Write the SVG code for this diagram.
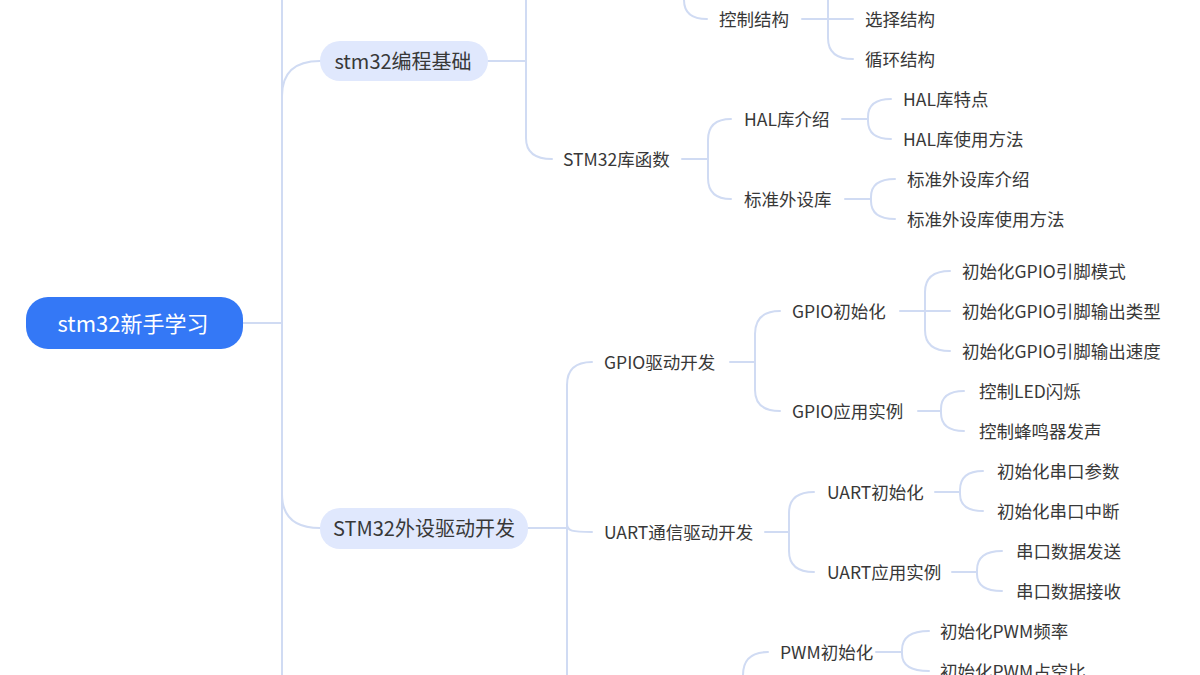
<svg xmlns="http://www.w3.org/2000/svg" width="1200" height="675" viewBox="0 0 1200 675">
<style>
.t{font-family:"Noto Sans CJK SC","Noto Sans",sans-serif;font-size:17.5px;fill:#383838;dominant-baseline:central}
.p{font-size:20px;text-anchor:middle}
.r{font-size:22px;fill:#ffffff;text-anchor:middle}
.c{fill:none;stroke:#d0dbf3;stroke-width:2;stroke-linecap:round}
.pill{fill:#e0e8fd}
</style>
<rect width="1200" height="675" fill="#ffffff"/>
<g id="connectors">
<path class="c" d="M243,323 H282"/>
<path class="c" d="M282,-5 V680"/>
<path class="c" d="M282,96 Q282,61 320,61"/>
<path class="c" d="M282,494 Q282,528 320,528"/>
<path class="c" d="M488,61 H526"/>
<path class="c" d="M526,-5 V138 Q526,159 552,159"/>
<path class="c" d="M684,-5 V0 Q684,19 707,19"/>
<path class="c" d="M802,19 H853"/>
<path class="c" d="M828,-5 V38 Q828,59 853,59"/>
<path class="c" d="M682,159 H708"/>
<path class="c" d="M708,159 V140 Q708,119 731,119"/>
<path class="c" d="M708,159 V178 Q708,199 731,199"/>
<path class="c" d="M842,119 H868"/>
<path class="c" d="M868,119 V117 Q868,99 891,99"/>
<path class="c" d="M868,119 V121 Q868,139 891,139"/>
<path class="c" d="M845,199 H871"/>
<path class="c" d="M871,199 V197 Q871,179 895,179"/>
<path class="c" d="M871,199 V201 Q871,219 895,219"/>
<path class="c" d="M528,528 H567"/>
<path class="c" d="M567,680 V385 Q567,362 592,362"/>
<path class="c" d="M567,524 C567,531 572,532 592,532"/>
<path class="c" d="M730,362 H755"/>
<path class="c" d="M755,362 V334 Q755,311 780,311"/>
<path class="c" d="M755,362 V390 Q755,411 780,411"/>
<path class="c" d="M900,311 H950"/>
<path class="c" d="M925,311 V292 Q925,271 950,271"/>
<path class="c" d="M925,311 V330 Q925,351 950,351"/>
<path class="c" d="M918,411 H941"/>
<path class="c" d="M941,411 V409 Q941,391 964,391"/>
<path class="c" d="M941,411 V413 Q941,431 964,431"/>
<path class="c" d="M765,532 H789"/>
<path class="c" d="M789,532 V513 Q789,492 814,492"/>
<path class="c" d="M789,532 V551 Q789,572 814,572"/>
<path class="c" d="M935,492 H960"/>
<path class="c" d="M960,492 V490 Q960,471 983,471"/>
<path class="c" d="M960,492 V494 Q960,511 983,511"/>
<path class="c" d="M952,572 H977"/>
<path class="c" d="M977,572 V570 Q977,551 1002,551"/>
<path class="c" d="M977,572 V574 Q977,591 1002,591"/>
<path class="c" d="M743,680 V675 Q743,652 768,652"/>
<path class="c" d="M876,652 H902"/>
<path class="c" d="M902,652 V650 Q902,631 929,631"/>
<path class="c" d="M902,652 V654 Q902,671 929,671"/>
</g>
<g id="root"><rect x="26" y="297" width="217" height="52" rx="22" fill="#3478f6"/><text class="t r" x="133" y="322">stm32新手学习</text></g>
<g id="n-basic"><rect class="pill" x="320" y="41" width="168" height="40" rx="20"/><text class="t p" x="403" y="60">stm32编程基础</text></g>
<g id="n-periph"><rect class="pill" x="320" y="508" width="208" height="41" rx="20"/><text class="t p" x="424" y="527">STM32外设驱动开发</text></g>
<g id="n-ctrl"><text class="t" x="719" y="18">控制结构</text></g>
<g id="n-sel"><text class="t" x="865" y="18">选择结构</text></g>
<g id="n-loop"><text class="t" x="865" y="58">循环结构</text></g>
<g id="n-lib"><text class="t" x="563" y="158">STM32库函数</text></g>
<g id="n-hal"><text class="t" x="744" y="118">HAL库介绍</text></g>
<g id="n-std"><text class="t" x="744" y="198">标准外设库</text></g>
<g id="n-hal1"><text class="t" x="903" y="98">HAL库特点</text></g>
<g id="n-hal2"><text class="t" x="903" y="138">HAL库使用方法</text></g>
<g id="n-std1"><text class="t" x="907" y="178">标准外设库介绍</text></g>
<g id="n-std2"><text class="t" x="907" y="218">标准外设库使用方法</text></g>
<g id="n-gpio"><text class="t" x="604" y="361">GPIO驱动开发</text></g>
<g id="n-gpioinit"><text class="t" x="792" y="310">GPIO初始化</text></g>
<g id="n-gpioapp"><text class="t" x="792" y="410">GPIO应用实例</text></g>
<g id="n-g1"><text class="t" x="962" y="270">初始化GPIO引脚模式</text></g>
<g id="n-g2"><text class="t" x="962" y="310">初始化GPIO引脚输出类型</text></g>
<g id="n-g3"><text class="t" x="962" y="350">初始化GPIO引脚输出速度</text></g>
<g id="n-g4"><text class="t" x="979" y="390">控制LED闪烁</text></g>
<g id="n-g5"><text class="t" x="979" y="430">控制蜂鸣器发声</text></g>
<g id="n-uart"><text class="t" x="604" y="531">UART通信驱动开发</text></g>
<g id="n-uartinit"><text class="t" x="827" y="491">UART初始化</text></g>
<g id="n-uartapp"><text class="t" x="827" y="571">UART应用实例</text></g>
<g id="n-u1"><text class="t" x="997" y="470">初始化串口参数</text></g>
<g id="n-u2"><text class="t" x="997" y="510">初始化串口中断</text></g>
<g id="n-u3"><text class="t" x="1016" y="550">串口数据发送</text></g>
<g id="n-u4"><text class="t" x="1016" y="590">串口数据接收</text></g>
<g id="n-pwminit"><text class="t" x="780" y="651">PWM初始化</text></g>
<g id="n-p1"><text class="t" x="940" y="630">初始化PWM频率</text></g>
<g id="n-p2"><text class="t" x="940" y="670">初始化PWM占空比</text></g>
</svg>
